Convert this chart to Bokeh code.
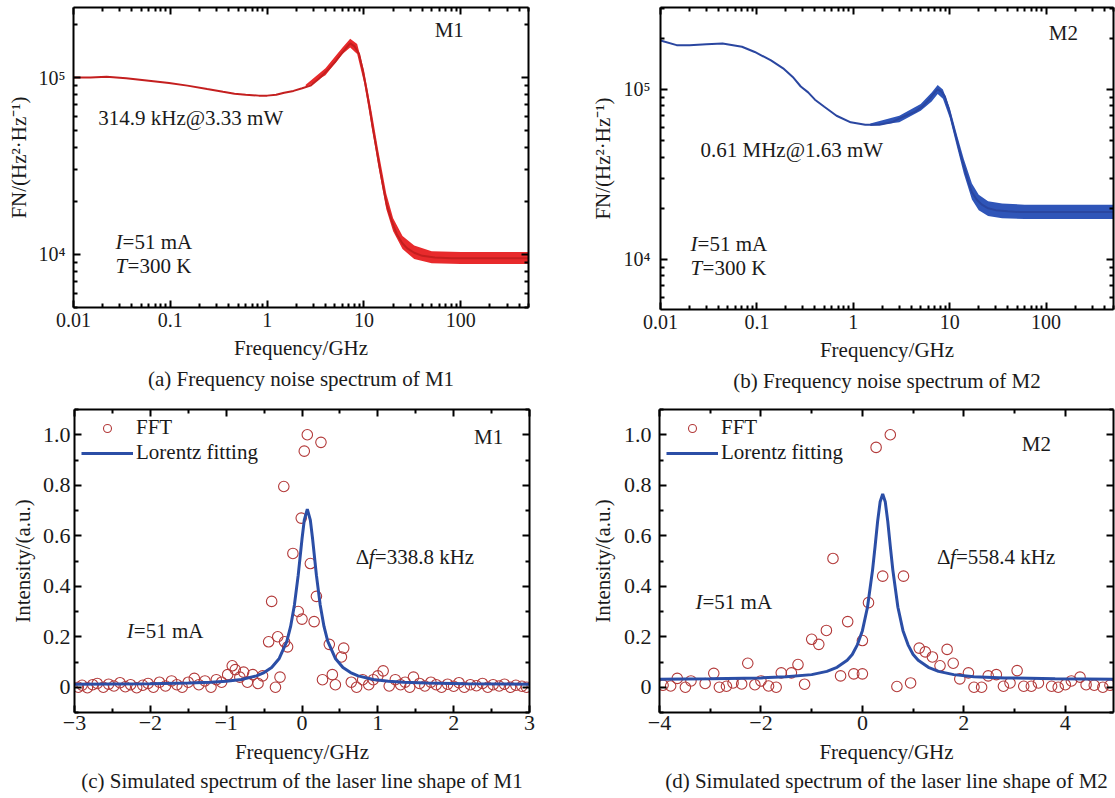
from bokeh.plotting import figure
from bokeh.models import (Range1d, FixedTicker, LogAxis, LinearAxis, Label, Title,
                          Legend, LegendItem)
from bokeh.layouts import row, column
from bokeh.embed import file_html
from bokeh.resources import INLINE

FONT = "Liberation Serif"
TXT = "#1a1a1a"
RED_LINE = "#c41f1f"
RED_BAND = "#e82a2c"
BLUE_LINE = "#2a46a0"
BLUE_BAND = "#2f55b8"
FIT_BLUE = "#2b4ea6"
CIRC = "#b33a3a"

# ---------------- data: (a) frequency noise M1 ----------------
a_freq = [0.01, 0.015, 0.022, 0.035, 0.06, 0.097, 0.15, 0.24, 0.35, 0.46, 0.6, 0.82, 1.0,
          1.24, 1.5, 1.87, 2.3, 2.8, 3.4, 4.2, 5.0, 5.65, 6.4, 7.2, 8.0, 8.9, 9.7, 10.5,
          11.4, 12.3, 13.4, 14.5, 15.8, 17.2, 19.3, 21.8, 25, 28, 33, 40, 54, 80, 120,
          200, 300, 500]
a_fn = [1.0e5, 1.0e5, 1.01e5, 9.9e4, 9.6e4, 9.3e4, 9.0e4, 8.6e4, 8.3e4, 8.1e4, 8.0e4,
        7.9e4, 7.9e4, 8.0e4, 8.2e4, 8.4e4, 8.7e4, 9.0e4, 9.8e4, 1.1e5, 1.22e5, 1.33e5,
        1.45e5, 1.56e5, 1.5e5, 1.36e5, 1.1e5, 8.8e4, 6.8e4, 5.2e4, 4.0e4, 3.1e4, 2.4e4,
        1.9e4, 1.55e4, 1.3e4, 1.15e4, 1.08e4, 1.02e4, 9.8e3, 9.6e3, 9.5e3, 9.5e3, 9.5e3,
        9.5e3, 9.5e3]
a_band_f = [2.5, 4, 6, 7.2, 8.5, 10, 12, 14, 17, 20, 25, 33, 50, 100, 200, 500]
a_band_lo = [8.8e4, 1.03e5, 1.36e5, 1.48e5, 1.36e5, 9.4e4, 5.3e4, 3.2e4, 1.8e4, 1.35e4,
             1.07e4, 9.4e3, 8.9e3, 8.8e3, 8.8e3, 8.8e3]
a_band_hi = [9.1e4, 1.13e5, 1.48e5, 1.66e5, 1.55e5, 1.1e5, 6.4e4, 3.9e4, 2.2e4, 1.6e4,
             1.27e4, 1.12e4, 1.04e4, 1.03e4, 1.03e4, 1.03e4]

# ---------------- data: (b) frequency noise M2 ----------------
b_freq = [0.01, 0.0147, 0.02, 0.03, 0.044, 0.07, 0.095, 0.14, 0.187, 0.24, 0.285, 0.34,
          0.40, 0.5, 0.67, 0.94, 1.33, 1.86, 2.5, 3.1, 4.4, 5.3, 6.1, 7.0, 7.5, 8.2, 8.9,
          10, 11, 11.9, 13, 14.3, 15.5, 16.9, 19, 21.6, 25, 30, 40, 54, 100, 200, 500]
b_fn = [1.94e5, 1.82e5, 1.82e5, 1.84e5, 1.86e5, 1.78e5, 1.66e5, 1.48e5, 1.33e5, 1.17e5,
        1.04e5, 9.6e4, 8.7e4, 7.9e4, 7.0e4, 6.4e4, 6.2e4, 6.2e4, 6.4e4, 6.8e4, 7.4e4,
        8.0e4, 8.7e4, 9.6e4, 1.0e5, 9.7e4, 9.1e4, 7.3e4, 5.9e4, 5.0e4, 4.1e4, 3.4e4,
        2.9e4, 2.5e4, 2.25e4, 2.1e4, 2.0e4, 1.95e4, 1.92e4, 1.9e4, 1.9e4, 1.9e4, 1.9e4]
b_band_f = [1.5, 3, 5, 6.5, 7.5, 8.5, 10, 12, 14, 17, 20, 25, 35, 60, 150, 500]
b_band_lo = [6.1e4, 6.4e4, 7.5e4, 8.5e4, 9.4e4, 8.8e4, 6.8e4, 4.5e4, 3.2e4, 2.25e4,
             1.95e4, 1.8e4, 1.75e4, 1.73e4, 1.73e4, 1.73e4]
b_band_hi = [6.3e4, 7.0e4, 8.2e4, 9.6e4, 1.06e5, 1.0e5, 7.8e4, 5.3e4, 3.9e4, 2.8e4,
             2.4e4, 2.2e4, 2.13e4, 2.1e4, 2.1e4, 2.1e4]

# ---------------- data: (c) line shape M1 ----------------
c_fft_x = [-2.95, -2.9, -2.83, -2.76, -2.7, -2.62, -2.55, -2.48, -2.4, -2.33, -2.26, -2.18,
           -2.1, -2.03, -1.96, -1.88, -1.8, -1.72, -1.65, -1.58, -1.5, -1.42, -1.36, -1.28,
           -1.2, -1.13, -1.06, -0.98, -0.92, -0.88, -0.82, -0.77, -0.72, -0.65, -0.58,
           -0.52, -0.44, -0.40, -0.35, -0.32, -0.29, -0.24, -0.23, -0.19, -0.12, -0.05,
           -0.01, 0.0, 0.03, 0.07, 0.11, 0.16, 0.19, 0.25, 0.27, 0.36, 0.40, 0.44, 0.52,
           0.55, 0.65, 0.72, 0.8, 0.88, 0.94, 1.0, 1.07, 1.15, 1.23, 1.3, 1.36, 1.42, 1.47,
           1.55, 1.62, 1.7, 1.77, 1.84, 1.92, 2.0, 2.07, 2.14, 2.22, 2.3, 2.38, 2.45, 2.52,
           2.6, 2.67, 2.75, 2.82, 2.9, 2.96]
c_fft_y = [0.0, 0.008, -0.002, 0.01, 0.015, 0.0, 0.012, 0.005, 0.018, 0.002, 0.01, -0.002,
           0.008, 0.015, 0.0, 0.02, 0.005, 0.025, 0.01, 0.0, 0.02, 0.035, 0.01, 0.025, 0.0,
           0.03, 0.02, 0.05, 0.085, 0.07, 0.04, 0.06, 0.02, 0.05, 0.015, 0.045, 0.18, 0.34,
           0.0, 0.20, 0.04, 0.795, 0.18, 0.16, 0.53, 0.30, 0.67, 0.27, 0.935, 1.0, 0.49,
           0.26, 0.36, 0.97, 0.03, 0.17, 0.05, 0.01, 0.12, 0.155, 0.02, 0.0, 0.03, 0.01,
           0.03, 0.045, 0.065, 0.005, 0.03, 0.01, 0.02, 0.0, 0.04, 0.015, 0.005, 0.02,
           0.01, 0.0, 0.012, 0.004, 0.018, 0.0, 0.01, 0.006, 0.015, 0.0, 0.01, 0.005, 0.012,
           0.0, 0.008, 0.004, 0.0]
c_fit_x = [-3, -2, -1.5, -1.2, -1.0, -0.8, -0.6, -0.5, -0.4, -0.3, -0.2, -0.15, -0.1,
           -0.05, 0.0, 0.03, 0.07, 0.11, 0.14, 0.19, 0.24, 0.29, 0.34, 0.44, 0.54, 0.64,
           0.74, 0.94, 1.14, 1.34, 1.64, 2.14, 3.0]
c_fit_y = [0.012, 0.014, 0.017, 0.020, 0.024, 0.031, 0.045, 0.058, 0.078, 0.114, 0.182,
           0.241, 0.326, 0.444, 0.587, 0.662, 0.705, 0.662, 0.587, 0.444, 0.326, 0.241,
           0.182, 0.114, 0.078, 0.058, 0.045, 0.031, 0.024, 0.020, 0.017, 0.014, 0.012]

# ---------------- data: (d) line shape M2 ----------------
d_fft_x = [-3.93, -3.78, -3.65, -3.49, -3.38, -3.10, -2.93, -2.82, -2.68, -2.55, -2.38,
           -2.26, -2.12, -2.0, -1.85, -1.70, -1.6, -1.4, -1.27, -1.14, -1.0, -0.86, -0.71,
           -0.58, -0.43, -0.29, -0.17, 0.0, 0.0, 0.12, 0.27, 0.40, 0.55, 0.68, 0.81, 0.95,
           1.12, 1.24, 1.38, 1.53, 1.67, 1.79, 1.92, 2.09, 2.2, 2.35, 2.48, 2.64, 2.78,
           2.91, 3.05, 3.18, 3.33, 3.47, 3.73, 3.86, 4.0, 4.12, 4.29, 4.41, 4.57, 4.74, 4.88]
d_fft_y = [0.008, 0.005, 0.035, 0.0, 0.025, 0.015, 0.055, 0.0, 0.004, 0.017, 0.013, 0.095,
           0.01, 0.025, 0.005, 0.0, 0.057, 0.057, 0.09, 0.012, 0.19, 0.17, 0.225, 0.51,
           0.045, 0.26, 0.053, 0.185, 0.053, 0.335, 0.95, 0.44, 1.0, 0.003, 0.44, 0.017,
           0.155, 0.14, 0.12, 0.085, 0.15, 0.095, 0.033, 0.057, 0.0, 0.0, 0.045, 0.05,
           0.004, 0.017, 0.066, 0.004, 0.004, 0.017, 0.004, 0.0, 0.01, 0.025, 0.04, 0.01,
           0.008, 0.0, 0.008]
d_fit_x = [-4, -3, -2, -1.5, -1, -0.7, -0.5, -0.3, -0.2, -0.1, 0, 0.1, 0.2, 0.25, 0.3,
           0.35, 0.4, 0.45, 0.5, 0.55, 0.6, 0.7, 0.8, 0.9, 1.0, 1.1, 1.3, 1.5, 1.8, 2.2,
           2.8, 3.8, 5]
d_fit_y = [0.032, 0.034, 0.037, 0.042, 0.05, 0.063, 0.079, 0.107, 0.13, 0.168, 0.224,
           0.317, 0.464, 0.558, 0.657, 0.735, 0.765, 0.735, 0.657, 0.558, 0.464, 0.317,
           0.224, 0.168, 0.13, 0.107, 0.079, 0.063, 0.05, 0.042, 0.037, 0.034, 0.032]

# ---------------- tick labels ----------------
log_x_ticks = [0.01, 0.1, 1, 10, 100]
log_x_labels = ["0.01", "0.1", "1", "10", "100"]
log_y_ticks = [1e4, 1e5]
log_y_labels = ["10\u2074", "10\u2075"]
c_x_ticks = [-3, -2, -1, 0, 1, 2, 3]
c_x_labels = ["\u22123", "\u22122", "\u22121", "0", "1", "2", "3"]
d_x_ticks = [-4, -2, 0, 2, 4]
d_x_labels = ["\u22124", "\u22122", "0", "2", "4"]
lin_y_ticks = [0, 0.2, 0.4, 0.6, 0.8, 1.0]
lin_y_labels = ["0", "0.2", "0.4", "0.6", "0.8", "1.0"]

log_x_minor = [m * 10.0 ** e for e in range(-2, 3) for m in range(2, 10) if m * 10.0 ** e <= 500]
log_y_minor = [m * 10.0 ** e for e in range(3, 6) for m in range(2, 10)]
c_x_minor = [-2.5, -1.5, -0.5, 0.5, 1.5, 2.5]
d_x_minor = [-3, -1, 1, 3]
lin_y_minor = [-0.1, 0.1, 0.3, 0.5, 0.7, 0.9, 1.1]


def style_axis(ax, size, show=True):
    ax.axis_line_width = 2
    ax.axis_line_color = "black"
    ax.major_tick_in = 7
    ax.major_tick_out = 0
    ax.minor_tick_in = 4
    ax.minor_tick_out = 0
    ax.major_tick_line_width = 2
    ax.minor_tick_line_width = 2
    ax.major_tick_line_color = "black"
    ax.minor_tick_line_color = "black"
    ax.major_label_text_font = FONT
    ax.major_label_text_font_size = size
    ax.major_label_text_color = TXT if show else None
    ax.axis_label_text_font = FONT
    ax.axis_label_text_font_size = "21px"
    ax.axis_label_text_font_style = "normal"
    ax.axis_label_text_color = TXT
    if not show:
        ax.major_label_standoff = 0


def make_fig(xtype, ytype, xr, yr, fw, fh, mbl, mbr, mbt, mbb):
    p = figure(x_axis_type=xtype, y_axis_type=ytype, x_range=xr, y_range=yr,
               frame_width=fw, frame_height=fh,
               min_border_left=mbl, min_border_right=mbr,
               min_border_top=mbt, min_border_bottom=mbb,
               output_backend="svg", toolbar_location=None)
    p.xgrid.visible = False
    p.ygrid.visible = False
    p.outline_line_color = None
    p.background_fill_color = "white"
    p.border_fill_color = "white"
    return p


def setup_axes(p, xtype, ytype, xt, xminor, xlabels, yt, yminor, ylabels,
               tick_size, xlabel, ylabel, x_standoff, y_standoff, ylab_standoff, xlab_standoff):
    bx = p.below[0]
    ly = p.left[0]
    bx.ticker = FixedTicker(ticks=xt, minor_ticks=xminor)
    ly.ticker = FixedTicker(ticks=yt, minor_ticks=yminor)
    bx.major_label_overrides = dict(zip(xt, xlabels))
    ly.major_label_overrides = dict(zip(yt, ylabels))
    style_axis(bx, tick_size)
    style_axis(ly, tick_size)
    bx.axis_label = xlabel
    ly.axis_label = ylabel
    bx.major_label_standoff = x_standoff
    ly.major_label_standoff = y_standoff
    bx.axis_label_standoff = xlab_standoff
    ly.axis_label_standoff = ylab_standoff
    AX = LogAxis if xtype == "log" else LinearAxis
    AY = LogAxis if ytype == "log" else LinearAxis
    top = AX(ticker=FixedTicker(ticks=xt, minor_ticks=xminor))
    style_axis(top, "1px", show=False)
    p.add_layout(top, "above")
    right = AY(ticker=FixedTicker(ticks=yt, minor_ticks=yminor))
    style_axis(right, "1px", show=False)
    p.add_layout(right, "right")


def add_label(p, x, y, text, style="normal", align="left", xoff=0, size="21px"):
    p.add_layout(Label(x=x, y=y, text=text, text_font=FONT, text_font_size=size,
                       text_font_style=style, text_align=align, text_baseline="middle",
                       x_offset=xoff, text_color=TXT))


def add_caption(p, text, standoff):
    p.add_layout(Title(text=text, align="center", text_font=FONT, text_font_size="21px",
                       text_font_style="normal", text_color=TXT, standoff=standoff), "below")


YLAB_FN = "FN/(Hz\u00b2\u00b7Hz\u207b\u00b9)"
YLAB_I = "Intensity/(a.u.)"
XLAB = "Frequency/GHz"

# ---------------- (a) ----------------
pa = make_fig("log", "log", Range1d(0.01, 500), Range1d(5e3, 2.49e5), 455, 300, 73, 32, 7, 93)
setup_axes(pa, "log", "log", log_x_ticks, log_x_minor, log_x_labels, log_y_ticks,
           log_y_minor, log_y_labels, "20px", XLAB, YLAB_FN, 5, 8, 5, 6)
pa.varea(x=a_band_f, y1=a_band_lo, y2=a_band_hi, fill_color=RED_BAND, fill_alpha=1.0)
pa.line(a_freq, a_fn, line_color=RED_LINE, line_width=2)
add_label(pa, 76, 1.85e5, "M1", align="center")
add_label(pa, 0.018, 5.87e4, "314.9 kHz@3.33 mW")
add_label(pa, 0.0272, 1.17e4, "I", style="italic")
add_label(pa, 0.0272, 1.17e4, "=51 mA", xoff=7)
add_label(pa, 0.0272, 8.55e3, "T", style="italic")
add_label(pa, 0.0272, 8.55e3, "=300 K", xoff=12)
add_caption(pa, "(a) Frequency noise spectrum of M1", 4)

# ---------------- (b) ----------------
pb = make_fig("log", "log", Range1d(0.01, 500), Range1d(5.08e3, 3.03e5), 453, 302, 100, 2, 5, 93)
setup_axes(pb, "log", "log", log_x_ticks, log_x_minor, log_x_labels, log_y_ticks,
           log_y_minor, log_y_labels, "20px", XLAB, YLAB_FN, 5, 10, 6, 6)
pb.varea(x=b_band_f, y1=b_band_lo, y2=b_band_hi, fill_color=BLUE_BAND, fill_alpha=1.0)
pb.line(b_freq, b_fn, line_color=BLUE_LINE, line_width=2)
add_label(pb, 151, 2.16e5, "M2", align="center")
add_label(pb, 0.026, 4.38e4, "0.61 MHz@1.63 mW")
add_label(pb, 0.0205, 1.24e4, "I", style="italic")
add_label(pb, 0.0205, 1.24e4, "=51 mA", xoff=7)
add_label(pb, 0.0205, 8.85e3, "T", style="italic")
add_label(pb, 0.0205, 8.85e3, "=300 K", xoff=12)
add_caption(pb, "(b) Frequency noise spectrum of M2", 4)


def lineshape_fig(fft_x, fft_y, fit_x, fit_y, xr, xt, xminor, xlabels, mbl, fw, mbr,
                  ylab_standoff, y_standoff):
    p = make_fig("linear", "linear", xr, Range1d(-0.1, 1.1), fw, 303, mbl, mbr, 9, 86)
    setup_axes(p, "linear", "linear", xt, xminor, xlabels, lin_y_ticks, lin_y_minor,
               lin_y_labels, "22px", XLAB, YLAB_I, 3, y_standoff, ylab_standoff, 7)
    r_fft = p.scatter(fft_x, fft_y, marker="circle", size=10.5, fill_color=None,
                      line_color=CIRC, line_width=1.1)
    r_fit = p.line(fit_x, fit_y, line_color=FIT_BLUE, line_width=3)
    leg = Legend(items=[LegendItem(label="FFT", renderers=[r_fft]),
                        LegendItem(label="Lorentz fitting", renderers=[r_fit])],
                 location=(7, 247), padding=2, margin=0, spacing=0, glyph_width=52,
                 glyph_height=20, label_standoff=3, label_height=22,
                 label_text_font=FONT, label_text_font_size="21px",
                 label_text_color=TXT, border_line_color=None,
                 background_fill_alpha=0)
    p.add_layout(leg)
    return p


# ---------------- (c) ----------------
pc = lineshape_fig(c_fft_x, c_fft_y, c_fit_x, c_fit_y, Range1d(-3, 3), c_x_ticks,
                   c_x_minor, c_x_labels, 74, 455, 31, 5, 4)
add_label(pc, 2.46, 0.99, "M1", align="center")
add_label(pc, 0.71, 0.516, "\u0394")
add_label(pc, 0.71, 0.516, "f", style="italic", xoff=13)
add_label(pc, 0.71, 0.516, "=338.8 kHz", xoff=19)
add_label(pc, -2.31, 0.222, "I", style="italic")
add_label(pc, -2.31, 0.222, "=51 mA", xoff=7)
add_caption(pc, "(c) Simulated spectrum of the laser line shape of M1", 0)

# ---------------- (d) ----------------
pd = lineshape_fig(d_fft_x, d_fft_y, d_fit_x, d_fit_y, Range1d(-4, 4.95), d_x_ticks,
                   d_x_minor, d_x_labels, 99, 454, 2, 6, 8)
add_label(pd, 3.43, 0.964, "M2", align="center")
add_label(pd, 1.47, 0.516, "\u0394")
add_label(pd, 1.47, 0.516, "f", style="italic", xoff=13)
add_label(pd, 1.47, 0.516, "=558.4 kHz", xoff=19)
add_label(pd, -3.29, 0.337, "I", style="italic")
add_label(pd, -3.29, 0.337, "=51 mA", xoff=7)
add_caption(pd, "(d) Simulated spectrum of the laser line shape of M2", 0)

layout = column(row(pa, pb, spacing=0), row(pc, pd, spacing=0), spacing=0)
open("out.html", "w").write(file_html(layout, INLINE))
